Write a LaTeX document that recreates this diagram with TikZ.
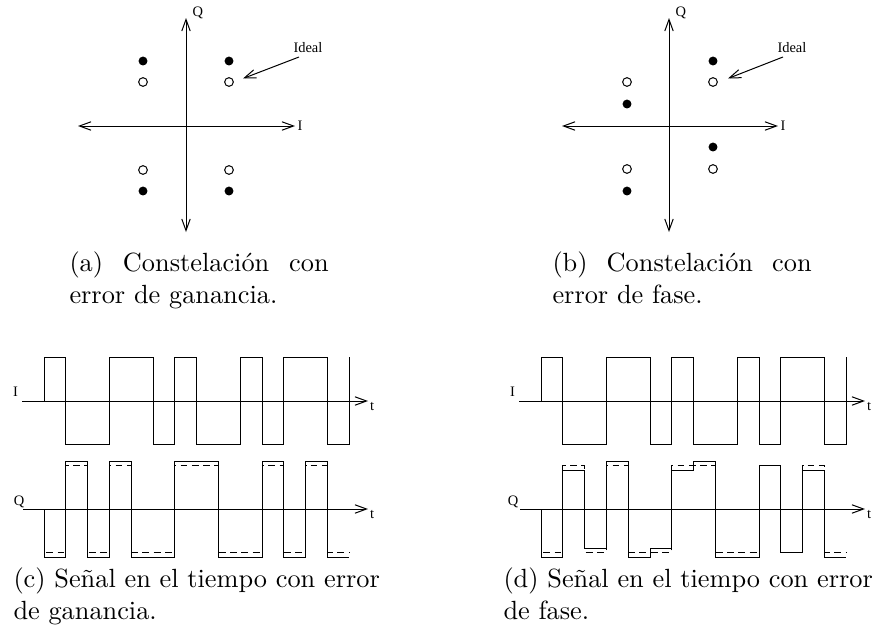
\documentclass[tikz,border=0pt]{standalone}
\usepackage{fontspec}
\newfontfamily\timesf{Liberation Serif}
\usetikzlibrary{arrows.meta}
\begin{document}
\begin{tikzpicture}[x=0.38pt,y=-0.38pt,line width=0.38pt,
  tip/.tip={Straight Barb[length=4.4pt,width=3.2pt,line width=0.38pt]},
  axis/.style={-tip},
  baxis/.style={tip-tip},
  fdot/.style={circle,fill=black,inner sep=0pt,minimum size=3.4pt},
  odot/.style={circle,draw=black,fill=white,inner sep=0pt,minimum size=3.3pt,line width=0.38pt},
  small/.style={font=\timesf\fontsize{5.5}{6.5}\selectfont,inner sep=0pt},
  capt/.style={font=\fontsize{10}{12}\selectfont,align=left,inner sep=0pt,anchor=base west},
  wave/.style={line width=0.38pt},
  ideal/.style={line width=0.38pt,dash pattern=on 2.6pt off 1.7pt}]
\path[use as bounding box] (0,0) rectangle (878,637);

% ---------- (a) constellation with gain error ----------
\coordinate (aL) at (78,126); \coordinate (aR) at (295,126);
\coordinate (aT) at (186,18); \coordinate (aB) at (186,232);
\draw[baxis] (aL) -- (aR);
\draw[baxis] (aB) -- (aT);
\node[small,anchor=west] (aI) at (297,126) {I};
\node[small,anchor=base west] (aQ) at (192,16) {Q};
\node[fdot] (af1) at (143,61) {}; \node[fdot] (af2) at (229,61) {};
\node[fdot] (af3) at (143,191) {}; \node[fdot] (af4) at (229,191) {};
\node[odot] (ao1) at (143,82) {}; \node[odot] (ao2) at (229,82) {};
\node[odot] (ao3) at (143,170) {}; \node[odot] (ao4) at (229,170) {};
\node[small,anchor=base west] (aIdeal) at (293,52) {Ideal};
\coordinate (aS) at (299,57); \coordinate (aE) at (243,78.5);
\draw[axis] (aS) -- (aE);
\node[capt] (capa) at (69,303) {\makebox[98.5pt][s]{(a) Constelación con}\\error de ganancia.};

% ---------- (b) constellation with phase error ----------
\coordinate (bL) at (562,126); \coordinate (bR) at (778,126);
\coordinate (bT) at (669,18); \coordinate (bB) at (669,232);
\draw[baxis] (bL) -- (bR);
\draw[baxis] (bB) -- (bT);
\node[small,anchor=west] (bI) at (780,126) {I};
\node[small,anchor=base west] (bQ) at (675,16) {Q};
\node[fdot] (bf1) at (713,61) {}; \node[fdot] (bf2) at (627,104) {};
\node[fdot] (bf3) at (713,147) {}; \node[fdot] (bf4) at (627,191) {};
\node[odot] (bo1) at (713,82) {}; \node[odot] (bo2) at (627,82) {};
\node[odot] (bo3) at (713,169) {}; \node[odot] (bo4) at (627,169) {};
\node[small,anchor=base west] (bIdeal) at (777,52) {Ideal};
\coordinate (bS) at (783,57); \coordinate (bE) at (728,78.5);
\draw[axis] (bS) -- (bE);
\node[capt] (capb) at (552,303) {\makebox[98.5pt][s]{(b) Constelación con}\\error de fase.};

% ---------- (c) time signal with gain error ----------
\coordinate (cI0) at (22,401); \coordinate (cI1) at (368,401);
\coordinate (cQ0) at (23,509); \coordinate (cQ1) at (368,509);
\draw[axis] (cI0) -- (cI1);
\draw[axis] (cQ0) -- (cQ1);
\node[small] (cIl) at (15.5,392) {I};
\node[small] (cQl) at (19,502) {Q};
\node[small,anchor=west] (ct1) at (369.5,406) {t};
\node[small,anchor=west] (ct2) at (369.5,514) {t};
\draw[wave] (44,401) |- (65.8,357) |- (109.4,444) |- (153,357) |- (174.8,444)
  |- (196.6,357) |- (240.2,444) |- (262,357) |- (283.8,444) |- (327.4,357)
  |- (349.2,444) -- (349.2,357);
\draw[wave] (44,509) |- (65.8,557) |- (87.6,461.7) |- (109.4,557) |- (131.2,461.7)
  |- (174.8,557) |- (218.4,461.7) |- (262,557) |- (283.8,461.7) |- (305.6,557)
  |- (327.4,461.7) |- (349.2,557);
\draw[ideal] (44,509) |- (65.8,552) |- (87.6,465.7) |- (109.4,552) |- (131.2,465.7)
  |- (174.8,552) |- (218.4,465.7) |- (262,552) |- (283.8,465.7) |- (305.6,552)
  |- (327.4,465.7) |- (349.2,552);
\node[capt] (capc) at (13,619) {(c) Señal en el tiempo con error\\de ganancia.};

% ---------- (d) time signal with phase error ----------
\coordinate (dI0) at (519,401); \coordinate (dI1) at (865,401);
\coordinate (dQ0) at (520,509); \coordinate (dQ1) at (865,509);
\draw[axis] (dI0) -- (dI1);
\draw[axis] (dQ0) -- (dQ1);
\node[small] (dIl) at (512.5,392) {I};
\node[small] (dQl) at (513,502) {Q};
\node[small,anchor=west] (dt1) at (866.5,406) {t};
\node[small,anchor=west] (dt2) at (866.5,514) {t};
\draw[wave] (541,401) |- (562.8,357) |- (606.4,444) |- (650,357) |- (671.8,444)
  |- (693.6,357) |- (737.2,444) |- (759,357) |- (780.8,444) |- (824.4,357)
  |- (846.2,444) -- (846.2,357);
\draw[wave] (541,509) |- (562.8,557) |- (584.6,470) |- (606.4,548.3) |- (628.2,461.7)
  |- (650,557) |- (671.8,548.3) |- (693.6,470) |- (715.4,461.7) |- (759,557)
  |- (780.8,465.7) |- (802.6,552) |- (824.4,470) |- (846.2,557);
\draw[ideal] (541,509) |- (562.8,552) |- (584.6,465.7) |- (606.4,552) |- (628.2,465.7)
  |- (671.8,552) |- (715.4,465.7) |- (759,552) |- (780.8,465.7) |- (802.6,552)
  |- (824.4,465.7) |- (846.2,552);
\node[capt] (capd) at (503,619) {(d) Señal en el tiempo con error\\de fase.};
\end{tikzpicture}
\end{document}
